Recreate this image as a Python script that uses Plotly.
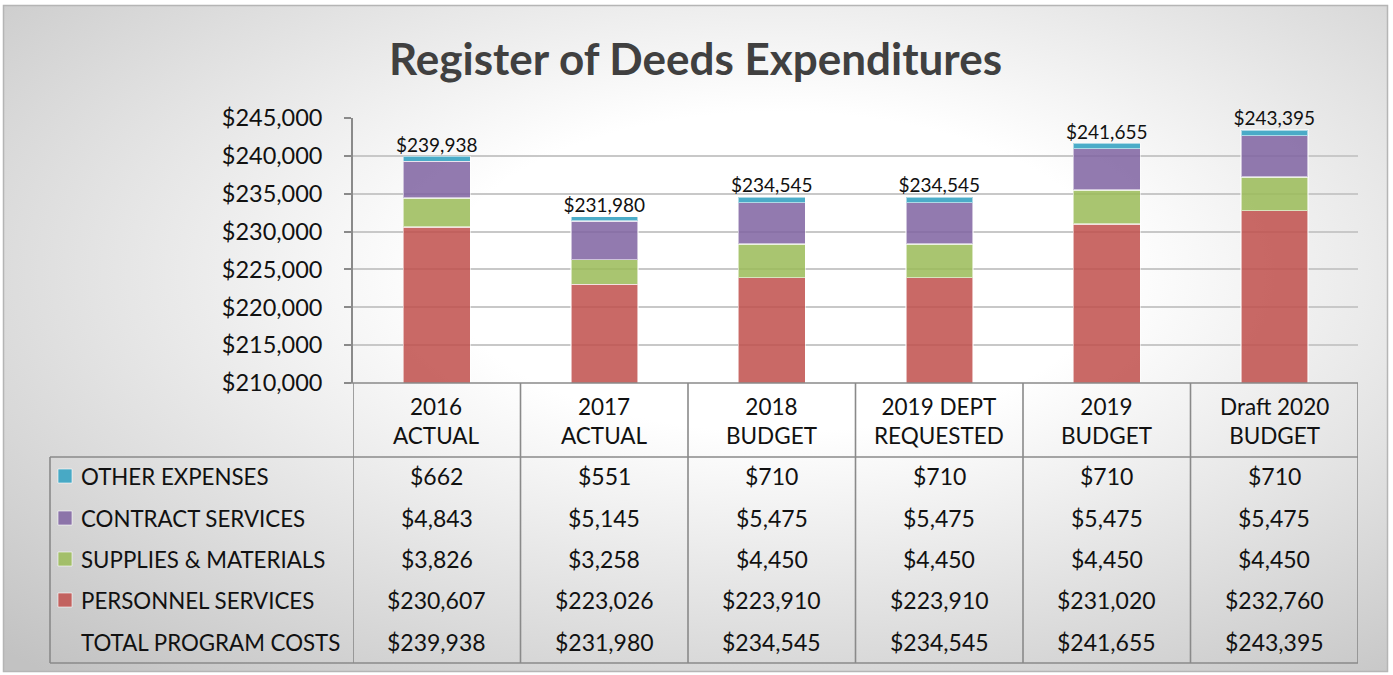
import base64
import plotly.graph_objects as go

# ---------------- data ----------------
categories = ["2016<br>ACTUAL", "2017<br>ACTUAL", "2018<br>BUDGET",
              "2019 DEPT<br>REQUESTED", "2019<br>BUDGET", "Draft 2020<br>BUDGET"]
personnel = [230607, 223026, 223910, 223910, 231020, 232760]
supplies = [3826, 3258, 4450, 4450, 4450, 4450]
contract = [4843, 5145, 5475, 5475, 5475, 5475]
other = [662, 551, 710, 710, 710, 710]
totals = [239938, 231980, 234545, 234545, 241655, 243395]
series_names = ["OTHER EXPENSES", "CONTRACT SERVICES", "SUPPLIES & MATERIALS",
                "PERSONNEL SERVICES", "TOTAL PROGRAM COSTS"]

# ---------------- geometry ----------------
W, H = 1393, 675
PL, PR, PT, PB = 353, 1358, 118, 383  # plot area in pixels
FONT = "Lato"


def px2x(px):
    return (px - PL) / (PR - PL)


def py2y(py):
    return (PB - py) / (PB - PT)


colors = {
    "personnel": "rgba(192,80,77,0.86)",
    "supplies": "rgba(155,187,89,0.86)",
    "contract": "rgba(128,100,162,0.86)",
    "other": "rgba(60,165,195,0.92)",
}

xs = list(range(len(categories)))
fig = go.Figure()
line = dict(color="rgba(255,255,255,0.55)", width=1.5)
for vals, key, name in [(personnel, "personnel", series_names[3]),
                        (supplies, "supplies", series_names[2]),
                        (contract, "contract", series_names[1]),
                        (other, "other", series_names[0])]:
    fig.add_trace(go.Bar(x=xs, y=vals, name=name, width=0.4,
                         marker=dict(color=colors[key], line=line)))

fig.add_trace(go.Scatter(x=xs, y=totals, mode="text",
                         text=[f"${v:,}" for v in totals],
                         textposition="top center",
                         textfont=dict(family=FONT, size=19, color="#111"),
                         showlegend=False, cliponaxis=False))

# ---------------- background (gradient frame) ----------------
svg = f'''<svg xmlns="http://www.w3.org/2000/svg" width="{W}" height="{H}" viewBox="0 0 {W} {H}" preserveAspectRatio="none">
<defs><radialGradient id="g" cx="0.56" cy="0.4" r="0.8">
<stop offset="0" stop-color="#ffffff"/><stop offset="0.3" stop-color="#ffffff"/>
<stop offset="1" stop-color="#c2c2c2"/></radialGradient></defs>
<rect x="0" y="0" width="{W}" height="{H}" fill="#ffffff"/>
<rect x="3.5" y="5.5" width="1384" height="666" fill="url(#g)" stroke="#b5b5b5" stroke-width="1.5"/>
</svg>'''
src = "data:image/svg+xml;base64," + base64.b64encode(svg.encode()).decode()
images = [dict(source=src, xref="paper", yref="paper", x=px2x(0), y=py2y(0),
               sizex=W / (PR - PL), sizey=H / (PB - PT), xanchor="left",
               yanchor="top", sizing="stretch", layer="below")]

# ---------------- table ----------------
shapes = []
gcol = "#8a8a8a"
lw = 1.6
header_top, header_bot, table_bot = 383, 457, 663
table_left = 50
shapes.append(dict(type="line", xref="paper", yref="paper", x0=px2x(346), x1=px2x(PR),
                   y0=py2y(header_top), y1=py2y(header_top), line=dict(color=gcol, width=lw)))
shapes.append(dict(type="line", xref="paper", yref="paper", x0=px2x(table_left), x1=px2x(PR),
                   y0=py2y(header_bot), y1=py2y(header_bot), line=dict(color=gcol, width=lw)))
shapes.append(dict(type="line", xref="paper", yref="paper", x0=px2x(table_left), x1=px2x(PR),
                   y0=py2y(table_bot), y1=py2y(table_bot), line=dict(color=gcol, width=lw)))
shapes.append(dict(type="line", xref="paper", yref="paper", x0=px2x(table_left), x1=px2x(table_left),
                   y0=py2y(header_bot), y1=py2y(table_bot), line=dict(color=gcol, width=lw)))
for i in range(len(categories) + 1):
    shapes.append(dict(type="line", xref="x", yref="paper", x0=i - 0.5, x1=i - 0.5,
                       y0=py2y(header_top), y1=py2y(table_bot), line=dict(color=gcol, width=lw)))

annotations = []
for i, c in enumerate(categories):
    annotations.append(dict(x=i, y=py2y(421), xref="x", yref="paper", text=c,
                            showarrow=False, font=dict(family=FONT, size=22.5, color="#111"),
                            xanchor="center", yanchor="middle"))

row_y = [476, 518, 559, 600, 642]
rows = [other, contract, supplies, personnel, totals]
key_cols = [colors["other"], colors["contract"], colors["supplies"], colors["personnel"], None]
for r, (vals, ry, kc, nm) in enumerate(zip(rows, row_y, key_cols, series_names)):
    annotations.append(dict(x=px2x(79), y=py2y(ry), xref="paper", yref="paper", text=nm,
                            showarrow=False, font=dict(family=FONT, size=22.3, color="#111"),
                            xanchor="left", yanchor="middle"))
    if kc:
        shapes.append(dict(type="rect", xref="paper", yref="paper", x0=px2x(58), x1=px2x(72),
                           y0=py2y(ry - 7), y1=py2y(ry + 7), fillcolor=kc,
                           line=dict(color="rgba(255,255,255,0.6)", width=1)))
    for i, v in enumerate(vals):
        annotations.append(dict(x=i, y=py2y(ry), xref="x", yref="paper", text=f"${v:,}",
                                showarrow=False, font=dict(family=FONT, size=23, color="#111"),
                                xanchor="center", yanchor="middle"))

# title
annotations.append(dict(x=px2x(695), y=py2y(58), xref="paper", yref="paper",
                        text="<b>Register of Deeds Expenditures</b>", showarrow=False,
                        font=dict(family=FONT, size=44, color="#404040"),
                        xanchor="center", yanchor="middle"))

fig.update_layout(
    width=W, height=H, barmode="stack", showlegend=False,
    margin=dict(l=PL, r=W - PR, t=PT, b=H - PB, pad=0),
    paper_bgcolor="white", plot_bgcolor="rgba(0,0,0,0)",
    images=images, shapes=shapes, annotations=annotations,
    xaxis=dict(range=[-0.5, 5.5], showticklabels=False, showgrid=False, zeroline=False,
               showline=False, ticks=""),
    yaxis=dict(range=[210000, 245000], dtick=5000, tickprefix="$", tickformat=",d",
               showgrid=True, gridcolor="#c8c8c8", gridwidth=1.5, zeroline=False,
               showline=True, linecolor=gcol, linewidth=lw, ticks="outside", ticklen=7,
               tickcolor=gcol, tickwidth=1.5,
               tickfont=dict(family=FONT, size=23.5, color="#111"), ticklabelstandoff=17),
)

fig.write_html("out.html", config={"displayModeBar": False},
               post_script="document.body.style.margin='0px';")
